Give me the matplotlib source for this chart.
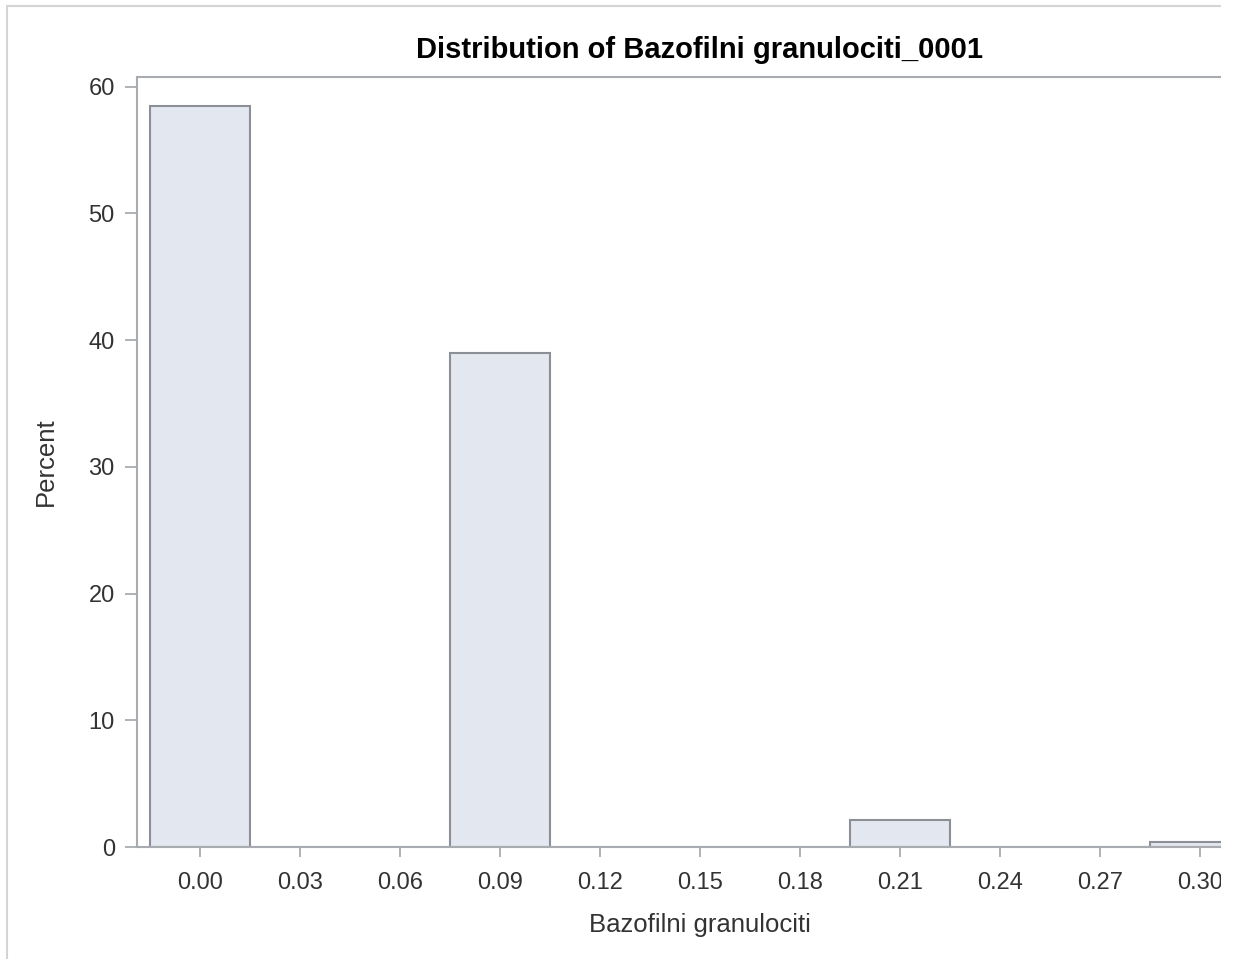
import matplotlib.pyplot as plt
from matplotlib.patches import Rectangle

plt.rcParams['font.family'] = ['Liberation Sans', 'DejaVu Sans']

# histogram bins (midpoints) and percent per bin
bin_mids = [0.00, 0.03, 0.06, 0.09, 0.12, 0.15, 0.18, 0.21, 0.24, 0.27, 0.30]
percent = [58.5, 0.0, 0.0, 39.0, 0.0, 0.0, 0.0, 2.1, 0.0, 0.0, 0.4]
x_ticks = [0.00, 0.03, 0.06, 0.09, 0.12, 0.15, 0.18, 0.21, 0.24, 0.27, 0.30]
x_ticklabels = ['0.00', '0.03', '0.06', '0.09', '0.12', '0.15', '0.18', '0.21', '0.24', '0.27', '0.30']
y_ticks = [0, 10, 20, 30, 40, 50, 60]
bin_width = 0.03

W, H = 1234, 959
fig = plt.figure(figsize=(W / 100, H / 100), dpi=100)

# axes runs past the right edge (the original picture is cropped there)
ax = fig.add_axes([137 / W, 1 - 847 / H, (1263 - 137) / W, (847 - 77) / H])

ax.bar(bin_mids, percent, width=bin_width, align='center',
       color='#e3e7f0', edgecolor='#8c9096', linewidth=1.5, zorder=2)

ax.set_xlim(-0.0189, 0.3189)
ax.set_ylim(0, 60.75)
ax.set_xticks(x_ticks)
ax.set_xticklabels(x_ticklabels)
ax.set_yticks(y_ticks)

spine_col = '#a8acb0'
for s in ['left', 'top', 'bottom', 'right']:
    ax.spines[s].set_color(spine_col)
    ax.spines[s].set_linewidth(1.5)

ax.tick_params(axis='x', direction='out', length=7, width=1.3, color=spine_col,
               labelsize=17, labelcolor='#333333', pad=11)
ax.tick_params(axis='y', direction='out', length=9, width=1.3, color=spine_col,
               labelsize=17, labelcolor='#333333', pad=7)

ax.set_xlabel('Bazofilni granulociti', fontsize=18.5, color='#333333', labelpad=14)
ax.set_ylabel('Percent', fontsize=18.5, color='#333333', labelpad=22)
ax.set_title('Distribution of Bazofilni granulociti_0001', fontsize=21,
             fontweight='bold', color='black', pad=14)

# outer graph frame (only left and top are visible)
fig.add_artist(Rectangle((7 / W, -0.1), 1.2, 1 - 6 / H + 0.1, transform=fig.transFigure,
                         fill=False, edgecolor='#d4d4d4', linewidth=1.5, zorder=0))
# cropped strip on the right
fig.add_artist(Rectangle((1221 / W, 0), 1, 1, transform=fig.transFigure,
                         facecolor='white', edgecolor='none', zorder=10))

fig.savefig('out.png', dpi=100)
